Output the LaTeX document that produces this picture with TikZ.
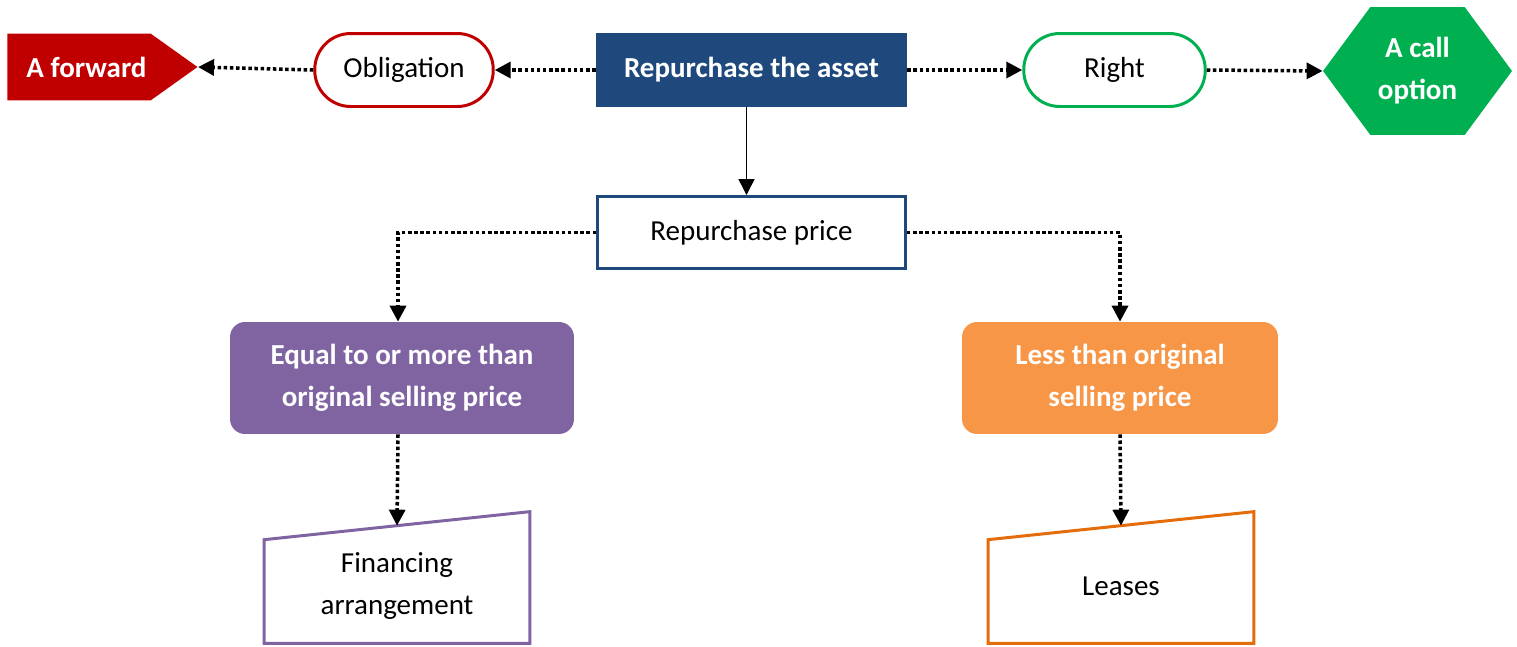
\documentclass[tikz,border=0pt]{standalone}
\usepackage{fontspec}
\setmainfont{Carlito}
\usetikzlibrary{shapes.symbols,arrows.meta,calc}

\definecolor{fwdred}{HTML}{C00000}
\definecolor{callgreen}{HTML}{00B050}
\definecolor{assetblue}{HTML}{1F497D}
\definecolor{casepurple}{HTML}{8064A2}
\definecolor{caseorange}{HTML}{F79646}
\definecolor{leaseorange}{HTML}{E46C0A}

\tikzset{
  txt/.style={align=center, inner sep=2pt, font=\fontsize{16.5}{24}\selectfont},
  boldtxt/.style={txt, text=white, font=\fontsize{16.5}{24}\selectfont\bfseries},
  pill/.style={txt, draw, line width=1.7pt, rounded corners=0.72cm, minimum height=1.46cm},
  headbox/.style={boldtxt, fill=assetblue, minimum width=6.22cm, minimum height=1.48cm},
  pricebox/.style={txt, draw=assetblue, line width=1.7pt, minimum width=6.16cm, minimum height=1.44cm},
  signalbox/.style={boldtxt, signal, fill=fwdred, signal to=east, signal pointer angle=71,
    minimum width=3.8cm, minimum height=1.34cm},
  hexbox/.style={boldtxt, signal, fill=callgreen, signal to=east and west, signal pointer angle=107,
    minimum width=3.78cm, minimum height=2.56cm},
  casebox/.style={boldtxt, rounded corners=0.3cm, minimum height=2.24cm},
  outbox/.style={txt, minimum width=5.3cm, minimum height=2.28cm},
  outline/.style={line width=1.7pt},
  tip/.style={-{Triangle[length=0.32cm,width=0.32cm]}},
  dots/.style={tip, line width=2pt, dash pattern=on 2pt off 1.5pt},
  plainarrow/.style={tip, line width=0.8pt},
}

\begin{document}
\begin{tikzpicture}[x=0.02cm,y=0.02cm]
\useasboundingbox (0,0) rectangle (1517,-646);

\node[signalbox] (forward) at (79,-67) {\hspace*{0.3cm}A forward};
\node[pill, draw=fwdred, minimum width=3.57cm] (oblig) at (404,-70) {Obligation};
\node[headbox] (asset) at (751.5,-70) {Repurchase the asset};
\node[pill, draw=callgreen, minimum width=3.63cm] (right) at (1114.5,-70) {Right};
\node[hexbox] (call) at (1417.5,-71) {A call\\option};

\node[pricebox] (price) at (751.5,-232.5) {Repurchase price};

\node[casebox, fill=casepurple, minimum width=6.88cm] (equal) at (402,-378) {Equal to or more than\\original selling price};
\node[casebox, fill=caseorange, minimum width=6.32cm] (less) at (1120,-378) {Less than original\\selling price};

\node[outbox] (fin) at (397,-586) {Financing\\arrangement};
\node[outbox] (lease) at (1121,-586) {Leases};

% slanted tops
\draw[outline, casepurple] (fin.south west) -- ($(fin.north west)+(0,-11)$) -- ($(fin.north east)+(0,17)$) -- (fin.south east) -- cycle;
\draw[outline, leaseorange] (lease.south west) -- ($(lease.north west)+(0,-11)$) -- ($(lease.north east)+(0,17)$) -- (lease.south east) -- cycle;
\coordinate (fintop) at ($(fin.north)+(0,3)$);
\coordinate (leasetop) at ($(lease.north)+(0,3)$);
\coordinate (assetfoot) at ($(asset.south)+(-5,0)$);
\coordinate (equaltop) at ($(equal.north)+(-4,0)$);
\coordinate (equalfoot) at ($(equal.south)+(-4,0)$);

\draw[dots] (oblig.west) -- (forward.east);
\draw[dots] (asset.west) -- (oblig.east);
\draw[dots] (asset.east) -- (right.west);
\draw[dots] (right.east) -- (call.west);
\draw[plainarrow] (assetfoot) -- (assetfoot |- price.north);
\draw[dots] (price.west) -| (equaltop);
\draw[dots] (price.east) -| (less.north);
\draw[dots] (equalfoot) -- (fintop);
\draw[dots] (less.south) -- (leasetop);
\end{tikzpicture}
\end{document}
